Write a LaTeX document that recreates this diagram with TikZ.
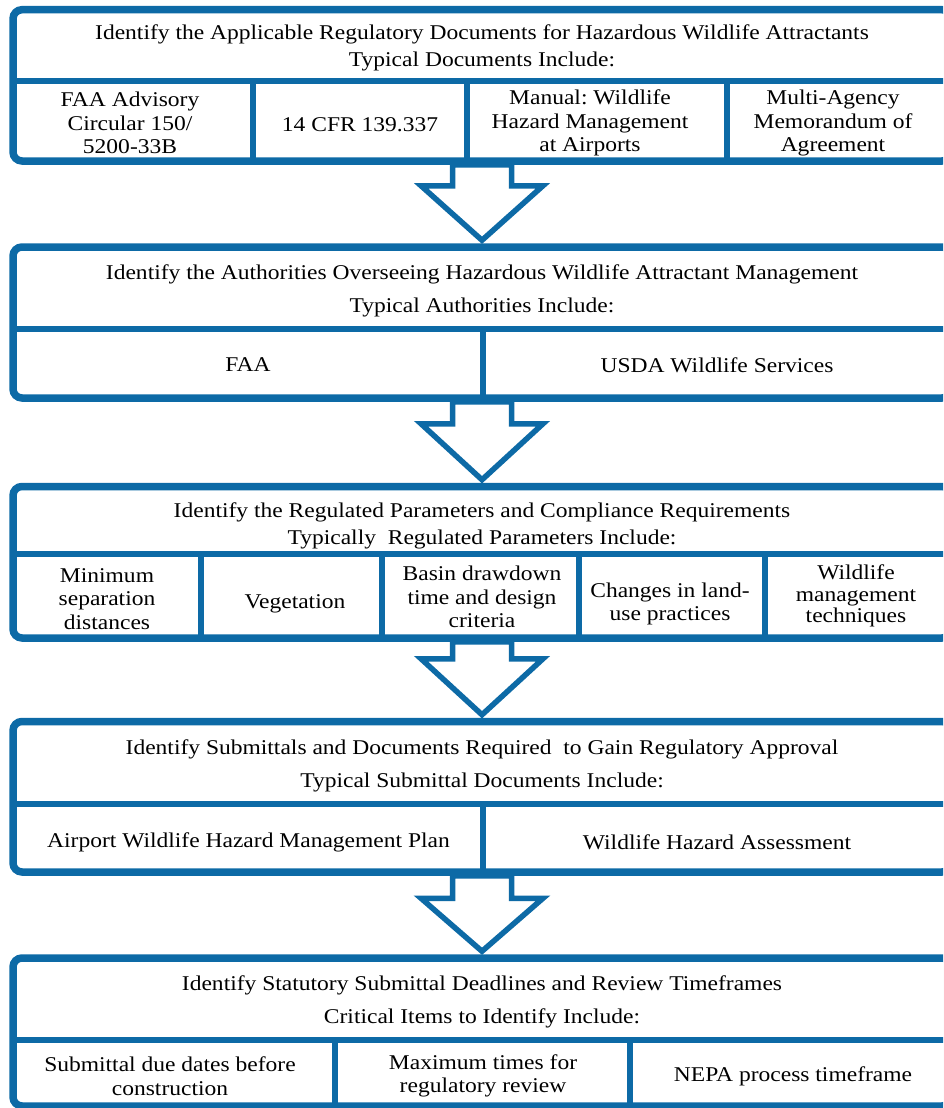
\documentclass[tikz,border=0pt]{standalone}
\usepackage{fontspec}
\setmainfont{Liberation Serif}[FakeStretch=1.12]
\frenchspacing
\usetikzlibrary{calc,shadows}
\definecolor{flowblue}{RGB}{13,106,166}
\pgfdeclarelayer{back}
\pgfsetlayers{back,main}
% block arrow from the bottom of one panel to the top of the next
% #1 = upper panel, #2 = lower panel, #3 = stem length
\newcommand\flowarrow[3]{%
  \begin{pgfonlayer}{back}
  \draw[flow] ($(#1.south)+(-29.5,0)$) -- ($(#1.south)+(-29.5,#3)$)
    -- ($(#1.south)+(-61,#3)$) -- ($(#2.north)+(0,-3)$)
    -- ($(#1.south)+(61,#3)$) -- ($(#1.south)+(29.5,#3)$)
    -- ($(#1.south)+(29.5,0)$) -- cycle;
  \end{pgfonlayer}}
\begin{document}
\begin{tikzpicture}[x=1pt,y=-1pt,
  panel/.style={draw=flowblue, line width=7.5pt, rounded corners=9pt, fill=white,
    minimum width=938pt, inner sep=0pt,
    drop shadow={opacity=0.15, shadow xshift=1.5pt, shadow yshift=-3pt}},
  rule/.style={draw=flowblue, line width=6pt},
  flow/.style={draw=flowblue, line width=5.5pt, fill=white, line join=miter,
    miter limit=10, drop shadow={opacity=0.12, shadow xshift=1.5pt, shadow yshift=-2pt}},
  cell/.style={align=center, inner sep=0pt, font=\fontsize{21}{23.5}\selectfont},
  headtight/.style={align=center, inner sep=0pt, font=\fontsize{21}{27}\selectfont},
  headwide/.style={align=center, inner sep=0pt, font=\fontsize{21}{33}\selectfont}]
\useasboundingbox (0,0) rectangle (943,1108);
\clip (0,0) rectangle (943,1108);

% panels
\node[panel, minimum height=151.3pt] (p1) at (482,85.35) {};
\node[panel, minimum height=151pt]   (p2) at (482,322.5) {};
\node[panel, minimum height=151.5pt] (p3) at (482,562.25) {};
\node[panel, minimum height=150.5pt] (p4) at (482,796.75) {};
\node[panel, minimum height=148pt]   (p5) at (482,1032) {};

% table rules inside the panels
\draw[rule] (13,80.5) -- (951,80.5);
\draw[rule] (253,80.5) -- (253,161);
\draw[rule] (467,80.5) -- (467,161);
\draw[rule] (726.5,80.5) -- (726.5,161);

\draw[rule] (13,329) -- (951,329);
\draw[rule] (482.5,329) -- (482.5,398);

\draw[rule] (13,554) -- (951,554);
\draw[rule] (201,554) -- (201,638);
\draw[rule] (382,554) -- (382,638);
\draw[rule] (579,554) -- (579,638);
\draw[rule] (764.5,554) -- (764.5,638);

\draw[rule] (13,803.5) -- (951,803.5);
\draw[rule] (482.5,803.5) -- (482.5,872);

\draw[rule] (13,1040) -- (951,1040);
\draw[rule] (334.5,1040) -- (334.5,1106);
\draw[rule] (630,1040) -- (630,1106);

% arrows between the steps
\flowarrow{p1}{p2}{21}
\flowarrow{p2}{p3}{22}
\flowarrow{p3}{p4}{17}
\flowarrow{p4}{p5}{22.5}

% step 1
\node[headtight] (h1) at (482,48) {Identify the Applicable Regulatory Documents for Hazardous Wildlife Attractants\\Typical Documents Include:};
\node[cell] (c11) at (130,123) {FAA Advisory\\Circular 150/\\5200-33B};
\node[cell] (c12) at (360,125) {14 CFR 139.337};
\node[cell] (c13) at (590,123) {Manual: Wildlife\\Hazard Management\\at Airports};
\node[cell] (c14) at (833,123) {Multi-Agency\\Memorandum of\\Agreement};

% step 2
\node[headwide] (h2) at (482,291) {Identify the Authorities Overseeing Hazardous Wildlife Attractant Management\\Typical Authorities Include:};
\node[cell] (c21) at (248,365) {FAA};
\node[cell] (c22) at (717,365) {USDA Wildlife Services};

% step 3
\node[headtight] (h3) at (482,526) {Identify the Regulated Parameters and Compliance Requirements\\Typically\ \ Regulated Parameters Include:};
\node[cell] (c31) at (107,599) {Minimum\\separation\\distances};
\node[cell] (c32) at (295,604) {Vegetation};
\node[cell] (c33) at (482,597) {Basin drawdown\\time and design\\criteria};
\node[cell] (c34) at (670,604) {Changes in land-\\use practices};
\node[cell, font=\fontsize{21}{21.5}\selectfont] (c35) at (856,596) {Wildlife\\management\\techniques};

% step 4
\node[headwide] (h4) at (482,766) {Identify Submittals and Documents Required\ \ to Gain Regulatory Approval\\Typical Submittal Documents Include:};
\node[cell] (c41) at (248.5,842) {Airport Wildlife Hazard Management Plan};
\node[cell] (c42) at (717,842) {Wildlife Hazard Assessment};

% step 5
\node[headwide] (h5) at (482,1002) {Identify Statutory Submittal Deadlines and Review Timeframes\\Critical Items to Identify Include:};
\node[cell] (c51) at (170,1076) {Submittal due dates before\\construction};
\node[cell] (c52) at (483,1076) {Maximum times for\\regulatory review};
\node[cell] (c53) at (793,1076) {NEPA process timeframe};
\end{tikzpicture}
\end{document}
